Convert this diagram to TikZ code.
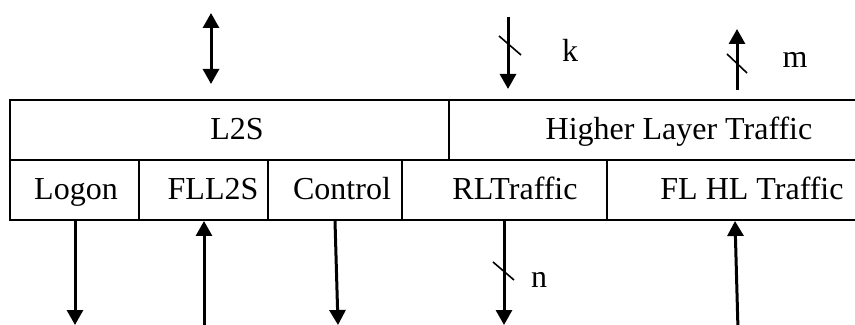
\documentclass[tikz,border=0pt]{standalone}
\usepackage{fontspec}
\setmainfont{Liberation Serif}
\usetikzlibrary{arrows.meta}
\begin{document}
\begin{tikzpicture}[x=0.5pt,y=-0.5pt,
  boxline/.style={line width=1pt,line cap=rect},
  flow/.style={line width=1.5pt,-{Triangle[width=8pt,length=7.5pt]}},
  biflow/.style={line width=1.5pt,{Triangle[width=8pt,length=7.5pt]}-{Triangle[width=8pt,length=7.5pt]}},
  bus/.style={line width=0.8pt},
  lbl/.style={font=\fontsize{16}{19}\selectfont,anchor=base,inner sep=0pt}]
\useasboundingbox (0,0) rectangle (855,325);
% box frame
\draw[boxline] (860,100) -- (10,100) -- (10,220) -- (860,220);
\draw[boxline] (10,160) -- (860,160);
\draw[boxline] (449,100) -- (449,160);
\draw[boxline] (139,160) -- (139,220);
\draw[boxline] (268,160) -- (268,220);
\draw[boxline] (402,160) -- (402,220);
\draw[boxline] (607,160) -- (607,220);
% labels
\node[lbl] (l2s) at (237,140) {L2S};
\node[lbl] (hlt) at (679,140) {Higher Layer Traffic};
\node[lbl] (logon) at (76,200) {Logon};
\node[lbl] (fll2s) at (213,200) {FLL2S};
\node[lbl] (ctrl) at (342,200) {Control};
\node[lbl] (rlt) at (515,200) {RLTraffic};
\node[lbl] (flhl) at (752,200) {FL HL Traffic};
\node[lbl] (k) at (570,62) {k};
\node[lbl] (m) at (795,68) {m};
\node[lbl] (n) at (539,287) {n};
% arrow end points
\coordinate (a1s) at (211,13);  \coordinate (a1e) at (211,84);
\coordinate (ks) at (508,17);   \coordinate (ke) at (508,89);
\coordinate (ms) at (737,90);   \coordinate (me) at (737,29);
\coordinate (lgs) at (75,220);  \coordinate (lge) at (75,325);
\coordinate (fls) at (204,330); \coordinate (fle) at (204,221);
\coordinate (cts) at (335,221); \coordinate (cte) at (338,325);
\coordinate (rls) at (504,220); \coordinate (rle) at (504,325);
\coordinate (hls) at (738,330); \coordinate (hle) at (735,221);
% arrows
\draw[biflow] (a1s) -- (a1e);
\draw[flow] (ks) -- (ke);
\draw[flow] (ms) -- (me);
\draw[flow] (lgs) -- (lge);
\draw[flow] (fls) -- (fle);
\draw[flow] (cts) -- (cte);
\draw[flow] (rls) -- (rle);
\draw[flow] (hls) -- (hle);
% bus-width slashes
\draw[bus] (499,36) -- (521,55);
\draw[bus] (727,54) -- (747,73);
\draw[bus] (493,262) -- (514,280);
\end{tikzpicture}
\end{document}
